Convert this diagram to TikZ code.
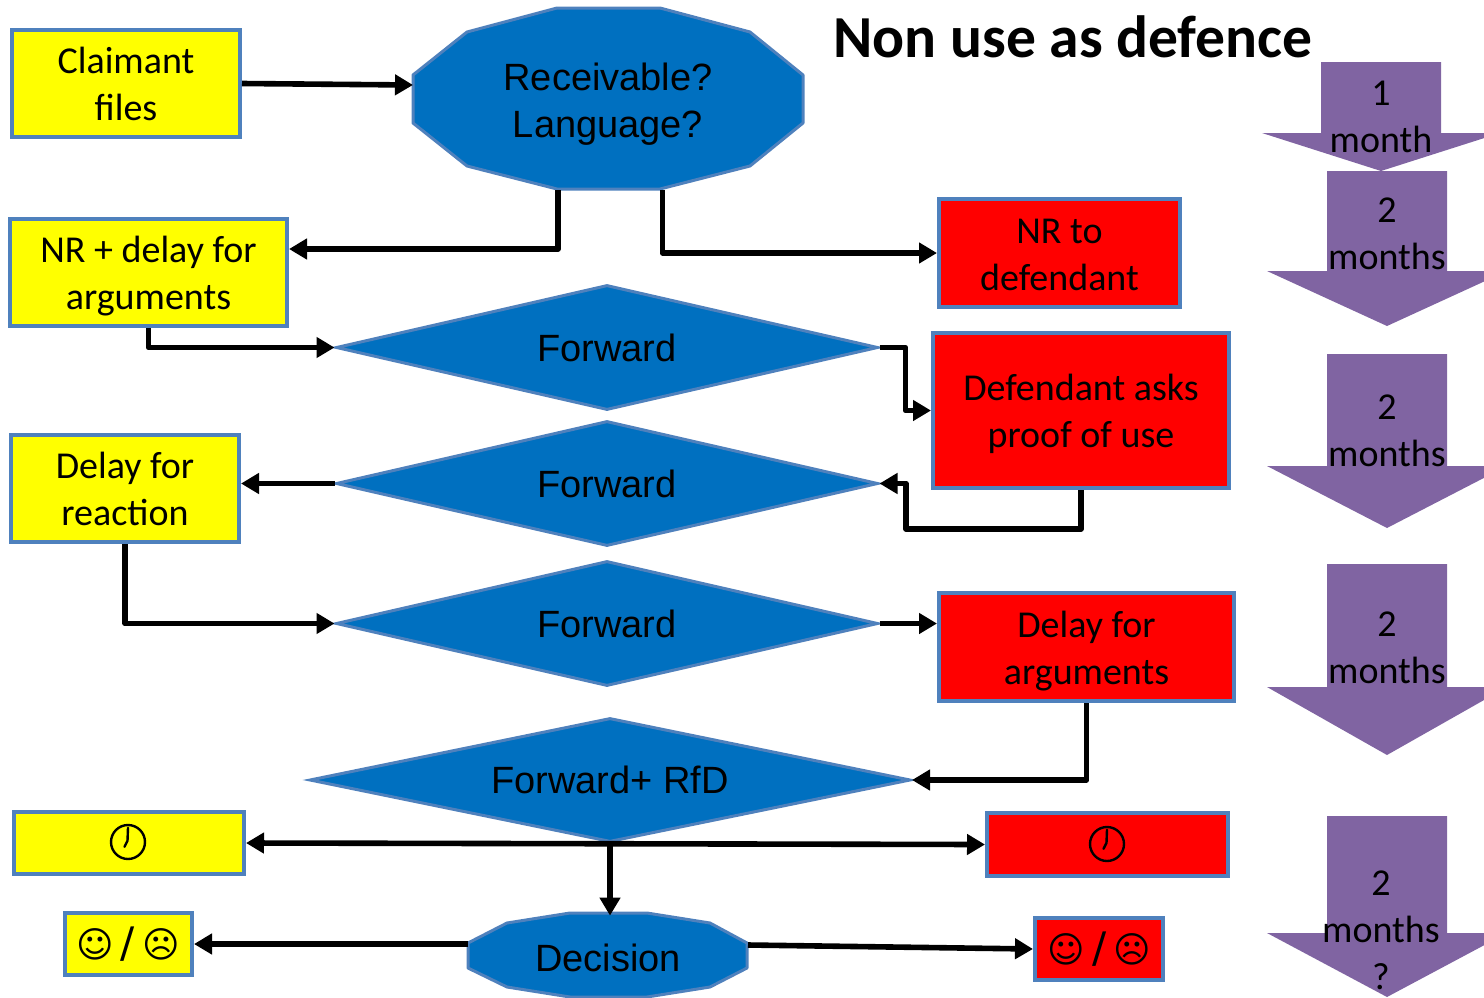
\documentclass[tikz,border=0pt]{standalone}
\usepackage{fontspec}
\setmainfont{Carlito}
\newfontfamily\blockfont{Liberation Sans}
\newfontfamily\symbfont{DejaVu Sans}
\usetikzlibrary{arrows.meta,shapes.geometric}
\definecolor{edgeblue}{HTML}{4F81BD}
\definecolor{fillblue}{HTML}{0070C0}
\definecolor{monthpurple}{HTML}{8064A2}
\definecolor{claimyellow}{HTML}{FFFF00}
\definecolor{defred}{HTML}{FF0000}
\newcommand\dropline[1]{\rule{0pt}{#1}}
\newcommand\facepair{{\fontsize{18}{20}\selectfont ☺}\hspace{3.5pt}{\fontsize{21}{24}\selectfont /}\hspace{3.5pt}{\fontsize{18}{20}\selectfont ☹}}
\tikzset{
  textsize/.style={font=\fontsize{19}{23.5}\selectfont, align=center, text=black},
  box/.style={textsize, draw=edgeblue, line width=2pt, inner sep=0pt},
  claimbox/.style={box, fill=claimyellow},
  defbox/.style={box, fill=defred},
  block/.style={font=\blockfont\fontsize{19}{23.5}\selectfont, align=center, text=black},
  fwd/.style={block, diamond, draw=edgeblue, fill=fillblue, line width=1.5pt, inner sep=0pt, shape aspect=4.4},
  octa/.style={draw=edgeblue, fill=fillblue, line width=1.5pt, line join=round},
  conn/.style={line width=2.8pt, line join=round, -{Triangle[length=9pt,width=10pt]}},
  month/.style={fill=monthpurple},
  monthtext/.style={textsize},
  clockface/.style={circle, draw=black, line width=1.2pt, minimum size=17pt, inner sep=0pt},
  clockhand/.style={line width=1.2pt, line cap=round},
  faces/.style={font=\symbfont, text=black}
}
\begin{document}
\begin{tikzpicture}[x=0.5pt, y=-0.5pt]
  \path[use as bounding box, clip] (0,0) rectangle (1484,997);

  % purple arrows
  \fill[month] (1321,62) -- (1441,62) -- (1441,133) -- (1500,133) -- (1381,171) -- (1262,133) -- (1321,133) -- cycle;
  \fill[month] (1327,171) -- (1447,171) -- (1447,271) -- (1507,271) -- (1387,326) -- (1267,271) -- (1327,271) -- cycle;
  \fill[month] (1327,354) -- (1447,354) -- (1447,466) -- (1507,466) -- (1387,528) -- (1267,466) -- (1327,466) -- cycle;
  \fill[month] (1327,564) -- (1447,564) -- (1447,687) -- (1507,687) -- (1387,755) -- (1267,687) -- (1327,687) -- cycle;
  \fill[month] (1327,816) -- (1447,816) -- (1447,933) -- (1507,933) -- (1387,997) -- (1267,933) -- (1327,933) -- cycle;
  \node[monthtext] (m1) at (1381,117) {1\\month};
  \node[monthtext] (m2) at (1387,233.5) {2\\months};
  \node[monthtext] (m3) at (1387,430.5) {2\\months};
  \node[monthtext] (m4) at (1387,647.5) {2\\months};
  \node[monthtext] (m5) at (1381,930) {2\\months\\?};

  % title
  \node[font=\bfseries\fontsize{29.8}{34}\selectfont] (title) at (1073,37) {Non use as defence};

  % blue blocks
  \draw[octa] (413,75) -- (467,32) -- (557,8) -- (660,8) -- (750,32) -- (803,75) -- (803,123)
    -- (750,166) -- (660,189) -- (557,189) -- (467,166) -- (413,123) -- cycle;
  \draw[octa] (468,943) -- (507,923) -- (570,913) -- (647,913) -- (710,923) -- (747,943) -- (747,968)
    -- (710,987) -- (647,997) -- (570,997) -- (507,987) -- (468,968) -- cycle;
  \node[block] (recv) at (608,104.5) {Receivable?\\Language?};
  \node[block, minimum width=140pt, minimum height=42pt] (decision) at (608,958) {Decision};
  \node[fwd, minimum width=271pt, minimum height=62.5pt] (fwd1) at (607,347.5) {Forward};
  \node[fwd, minimum width=271pt, minimum height=62.5pt] (fwd2) at (607,483.5) {Forward};
  \node[fwd, minimum width=271pt, minimum height=62.5pt] (fwd3) at (607,623.5) {Forward};
  \node[fwd, minimum width=300.5pt, minimum height=62pt] (fwdrfd) at (610,780) {Forward+ RfD};

  % claimant side
  \node[claimbox, minimum width=114pt, minimum height=53.5pt] (claim) at (126,83.5) {Claimant\\files};
  \node[claimbox, minimum width=138.5pt, minimum height=53.5pt] (nrdelay) at (148.5,272.5) {\dropline{17pt}NR + delay for\\arguments};
  \node[claimbox, minimum width=114pt, minimum height=53.5pt] (delayreact) at (125,488.5) {Delay for\\reaction};
  \node[claimbox, minimum width=115pt, minimum height=31pt] (yclock) at (129,843) {};
  \node[claimbox, minimum width=63.5pt, minimum height=31pt] (ysmile) at (128.5,944) {};

  % defendant side
  \node[defbox, minimum width=120.5pt, minimum height=54pt] (nrdef) at (1059.5,253) {\dropline{14.5pt}NR to\\defendant};
  \node[defbox, minimum width=148pt, minimum height=77.5pt] (defasks) at (1081,410.5) {\dropline{17pt}Defendant asks\\proof of use};
  \node[defbox, minimum width=147.5pt, minimum height=54pt] (delayargs) at (1086.5,647) {\dropline{17pt}Delay for\\arguments};
  \node[defbox, minimum width=120.5pt, minimum height=31.5pt] (rclock) at (1107.5,844.5) {};
  \node[defbox, minimum width=64pt, minimum height=31pt] (rsmile) at (1099,949) {};

  % clocks and faces
  \node[clockface] (yface) at (128,842) {};
  \draw[clockhand] (yface.north) ++(0,4) -- ++(-0.5,13) -- ++(-3,6);
  \node[clockface] (rface) at (1107,844) {};
  \draw[clockhand] (rface.north) ++(0,4) -- ++(-0.5,13) -- ++(-3,6);
  \node[faces] (ytext) at (128,944) {\facepair};
  \node[faces] (rtext) at (1099.5,949) {\facepair};

  % connectors
  \coordinate (recvin) at (413,85);
  \coordinate (recvl) at (558,190);
  \coordinate (recvr) at (662.5,190);
  \coordinate (nrin) at (289,249);
  \coordinate (decl) at (468,944);
  \coordinate (decr) at (748,945);
  \draw[conn] (claim.east) -- (recvin);
  \draw[conn] (recvl) |- (nrin);
  \draw[conn] (recvr) |- (nrdef.west);
  \draw[conn] (nrdelay.south) |- (fwd1.west);
  \draw[conn] (fwd1.east) -- ++(26,0) |- (defasks.west);
  \draw[conn] (defasks.south) -- ++(0,39) -- ++(-175,0) |- (fwd2.east);
  \draw[conn] (fwd2.west) -- (delayreact.east |- fwd2.west);
  \draw[conn] (delayreact.south) |- (fwd3.west);
  \draw[conn] (fwd3.east) -- (delayargs.west |- fwd3.east);
  \draw[conn] (delayargs.south) |- (fwdrfd.east);
  \draw[conn, {Triangle[length=9pt,width=10pt]}-{Triangle[length=9pt,width=10pt]}] (yclock.east) -- (rclock.west);
  \draw[conn] (fwdrfd.south) -- (fwdrfd.south |- decision.north);
  \draw[conn] (decl) -- (ysmile.east);
  \draw[conn] (decr) -- (rsmile.west);
\end{tikzpicture}
\end{document}
